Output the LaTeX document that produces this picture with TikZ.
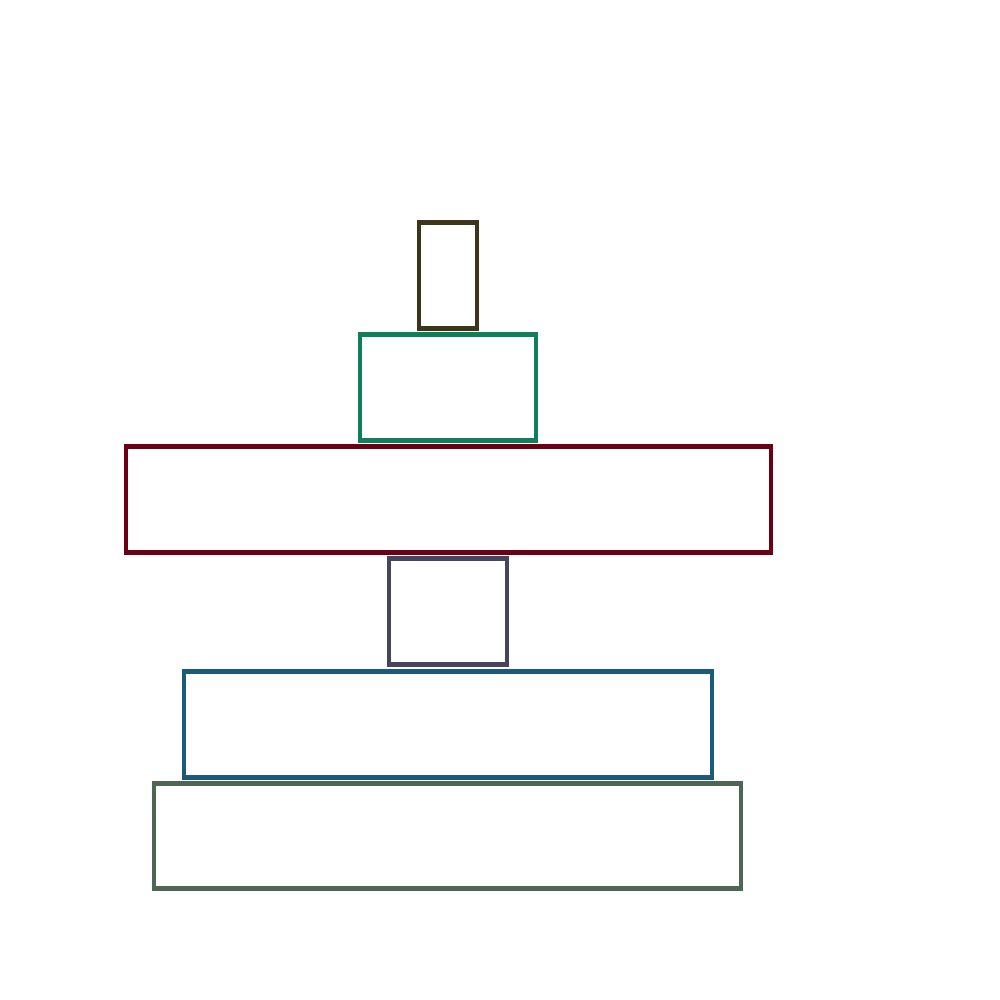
\documentclass[tikz,border=0pt]{standalone}
\definecolor{cA}{HTML}{3D3518}
\definecolor{cB}{HTML}{0E7F5A}
\definecolor{cC}{HTML}{6B0015}
\definecolor{cD}{HTML}{46455E}
\definecolor{cE}{HTML}{1C5A7A}
\definecolor{cF}{HTML}{4F6655}
\begin{document}
\begin{tikzpicture}[x=0.01cm,y=-0.01cm,
  blk/.style={draw=#1, line width=0.42mm, fill=white, inner sep=0pt, outer sep=0pt}]
\useasboundingbox (0,0) rectangle (1000,1000);
\node[blk=cA, minimum width=0.58cm, minimum height=1.06cm] (b1) at (448,275.5) {};
\node[blk=cB, minimum width=1.76cm, minimum height=1.06cm] (b2) at (448,387.5) {};
\node[blk=cC, minimum width=6.45cm, minimum height=1.06cm] (b3) at (448.5,499.5) {};
\node[blk=cD, minimum width=1.18cm, minimum height=1.06cm] (b4) at (448,611.5) {};
\node[blk=cE, minimum width=5.28cm, minimum height=1.06cm] (b5) at (448,724.5) {};
\node[blk=cF, minimum width=5.87cm, minimum height=1.05cm] (b6) at (447.5,836) {};
\end{tikzpicture}
\end{document}
